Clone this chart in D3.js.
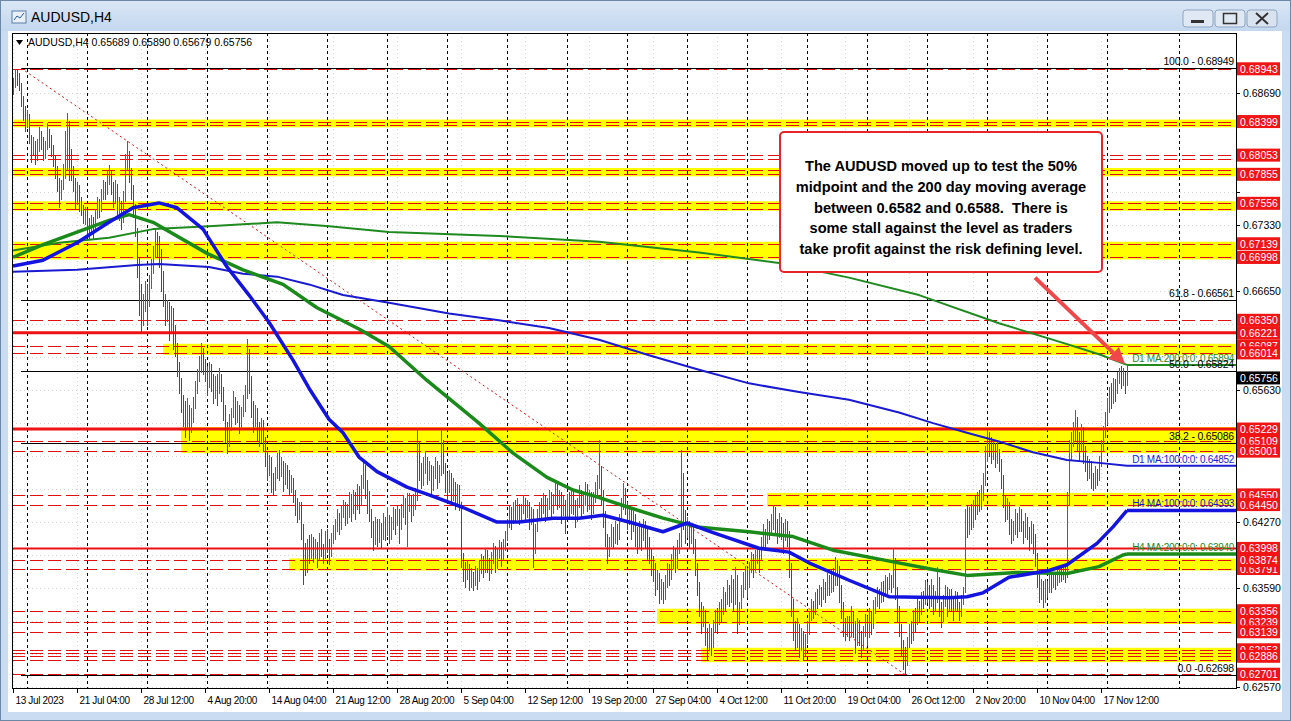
<!DOCTYPE html>
<html><head><meta charset="utf-8">
<script src="https://cdn.jsdelivr.net/npm/d3@7"></script>
<style>
body{margin:0;background:#fff;overflow:hidden}
svg{display:block;font-family:"Liberation Sans",Arial,sans-serif}
</style></head><body>
<svg id="c" width="1291" height="721"></svg>
<script>
// ===== DATA (prices in pips, 0.0001) =====
const symbolTitle = "AUDUSD,H4";
const headerOHLC = "0.65689 0.65890 0.65679 0.65756";

const closes = [
6880,6889,6886,6878, 6862,6850,6838,6845, 6822,6810,6818,6805,
6815,6826,6820,6808,6814,6830,6822,6812, 6800,6790,6778,6765,6772,
6790,6820,6838,6808,6792, 6775,6762,6770,6756,6750, 6740,6748,6735,6728,6738,6732,
6745,6755,6750,6765,6772,6768,6782,6788, 6770,6760,6772,6748,6755,6740,6762,
6800,6808, 6785,6768,6750,6730, 6690,6660,6640,6652,6668,6650,
6675,6690,6705,6720,6712, 6700,6680,6660, 6640,6652,6630,6645,6625,
6605,6585,6568,6550,6540, 6530,6545,6525,6538, 6552,6565,6578,6590,6600,6592,
6580,6570,6585,6575,6560,6572,6565,6578, 6560,6540,6520,6508,6530,
6540,6552,6535,6545,6528,6540,6550, 6560,6598,6575, 6545,6530,6540,6522,6515,6528,6510,
6495,6480,6490,6470,6462, 6478,6490,6480,6488,6470,6482,6475, 6462,6470,6455,6445,6438,6442,
6420,6395,6380,6405,6398, 6408,6395,6402,6390,6410,6400,6394,6412,6405,6396,6410,6418,
6425,6432,6422,6438,6444,6430,6440, 6450,6438,6455,6442,6460,6448,6470,6485,6465,6448,
6435,6420,6408,6425,6410, 6420,6412,6428,6418,6430,6415,6425,6435,
6428,6438,6425,6440,6448,6435,6445,6452,6440,6450,6455, 6495,
6480,6470,6485,6490,6475,6482,6468,6478,6488,6472,6480,6505,6485,
6470,6462,6475,6458,6465,6452,6460,6448, 6395,
6378,6370,6382,6365,6372,6362,6375,6368,6380,
6388,6380,6392,6385,6378,6390,6398,6386,6395,6402,6392,6405,6412,
6425,6438,6430,6442,6435,6445,6432,6440,6448,6436,6445,6430,6438,6400,6420,6435,
6445,6440,6452,6438,6445,6455,6440,6450,6462,6448,6455,6440,6448,6435,6450,
6440,6452,6445,6432,6445,6455,6440,6448,6460,6445,6452,6440,6450,6462,6470, 6478,
6452,6430,6410,6398,6405, 6415,6408,6420,6412,6430,6445,6460,
6440,6428,6435,6420,6430,6415,6405,6420,6410,6425,6412,6400,
6395,6385,6378,6365,6370,6355,6360,6350, 6365,6378,6372,6388,6395,6385,6400,6408, 6470,
6430,6418,6425,6410,6420,6405, 6380,6360,6340,6325,6335, 6310,6298,6315,6302,6320,
6332,6325,6340,6335,6350,6345,6358,6352, 6365,6345,6370,6328,6340,6355,6368,
6375,6360,6382,6390,6378,6392,6398,6388,
6405,6415,6410,6422,6418,6428,6440,6425,6418,6430,6420,6412,6425,6415,
6380,6340,6318, 6305,6320,6300,6310,6295,6308,6318,
6330,6342,6335,6350,6345,6358,6350,6362,6355,6368,6360,6372,6365,6380,6375,
6355,6338,6320,6312,6325, 6315,6330,6318,6305,6322,6310,6298,6315,6325,6312,6330,6320,6338,
6345,6352,6348,6360,6355,6365,6362,6370,6365,6385, 6355,6335,6318,6300,6288,6282,6300,
6318,6310,6330,6325,6342,6335,6350,6345,6360,6355,
6345,6360,6340,6350,6365,6338,6330,6348,6355,6340,6352, 6345,6338,6350,6342,6335,6348,6355,
6432,6420,6438,6428,6445,6440,6450,6445,6458,6470, 6495,6510,6505, 6498,6505,6492,6500,6488,
6470,6450,6435,6445,6425,6412,6420, 6432,6420,6438,6425,6415,6430,6418,6408,6422,6410,
6390,6372,6355,6362,6350, 6362,6358,6368,6362,6372,6365,6370,6378,6372,6380,6375,
6450,6500, 6510,6522,6530,6515,6505,6520,6500, 6490,6478,6485,6470,6465,6478,6472,6490,
6505,6520,6535,6548,6560, 6555,6568,6562,6575,6585,6572,6580,6569,6576
];
const highs = [
6885,6894,6893,6890, 6880,6866,6856,6852, 6848,6826,6824,6820,
6822,6834,6830,6824,6820,6838,6832,6826, 6816,6804,6794,6782,6780,
6796,6830,6849,6840,6812, 6794,6782,6778,6774,6762, 6754,6752,6750,6740,6744,6742,
6750,6762,6760,6770,6780,6778,6790,6795, 6790,6778,6780,6776,6762,6758,6768,
6806,6820, 6810,6792,6775,6755, 6730,6700,6672,6662,6675,6672,
6682,6698,6712,6729,6726, 6722,6708,6686, 6662,6656,6654,6650,6648,
6630,6612,6592,6575,6558, 6552,6555,6548,6545, 6556,6572,6585,6598,6612,6606,
6595,6588,6592,6590,6580,6578,6580,6586, 6580,6566,6548,6530,6538,
6545,6562,6556,6552,6548,6546,6558, 6568,6616,6605, 6578,6552,6548,6545,6530,6534,6532,
6515,6500,6496,6494,6478, 6484,6498,6501,6494,6490,6488,6486, 6481,6476,6472,6460,6452,6448,
6448,6425,6405,6410,6414, 6415,6412,6410,6406,6416,6420,6404,6418,6420,6410,6416,6424,
6430,6440,6436,6444,6450,6448,6446, 6458,6456,6460,6458,6466,6464,6476,6489,6486,6470,
6459,6440,6428,6432,6430, 6430,6426,6436,6432,6442,6434,6432,6442,
6440,6445,6440,6446,6455,6452,6457,6457,6455,6456,6462, 6522,
6510,6488,6494,6500,6494,6490,6486,6485,6494,6490,6486,6522,6512,
6488,6478,6481,6478,6472,6468,6466,6465, 6445,
6392,6386,6388,6384,6380,6376,6382,6380,6388,
6394,6392,6400,6398,6390,6396,6405,6402,6400,6408,6406,6410,6418,
6430,6445,6442,6448,6450,6452,6446,6446,6455,6452,6450,6448,6442,6440,6425,6440,
6448,6452,6457,6455,6452,6460,6458,6456,6470,6466,6460,6458,6454,6450,6456,
6458,6460,6458,6450,6452,6465,6460,6456,6468,6466,6460,6458,6458,6468,6475, 6512,
6485,6460,6438,6415,6412, 6425,6422,6428,6425,6435,6452,6467,
6462,6448,6442,6440,6438,6435,6422,6428,6424,6430,6428,6420,
6412,6400,6392,6385,6378,6374,6368,6365, 6372,6385,6384,6394,6402,6400,6408,6416, 6501,
6478,6439,6432,6428,6426,6425, 6410,6385,6365,6345,6340, 6336,6318,6322,6318,6326,
6336,6338,6345,6348,6360,6355,6367,6362, 6372,6368,6381,6372,6345,6362,6375,
6382,6380,6386,6396,6394,6398,6401,6400,
6412,6425,6420,6430,6428,6435,6445,6442,6430,6436,6432,6426,6430,6428,
6418,6385,6348, 6325,6328,6322,6318,6315,6312,6325,
6335,6348,6346,6355,6358,6362,6360,6368,6365,6374,6372,6378,6380,6391,6388,
6382,6362,6345,6328,6330, 6330,6340,6335,6325,6328,6326,6315,6320,6332,6330,6338,6335,6347,
6350,6360,6358,6365,6366,6372,6370,6374,6372,6400, 6390,6360,6340,6322,6305,6298,6308,
6322,6325,6336,6338,6348,6346,6355,6356,6367,6365,
6362,6368,6362,6356,6381,6370,6345,6352,6362,6360,6358, 6358,6350,6356,6355,6345,6352,6360,
6440,6445,6442,6446,6450,6455,6458,6460,6465,6478, 6505,6522,6520, 6515,6512,6508,6510,6502,
6492,6475,6455,6452,6448,6430,6428, 6440,6436,6442,6440,6428,6436,6432,6422,6428,6425,
6415,6395,6378,6368,6366, 6368,6366,6372,6372,6376,6376,6378,6381,6380,6384,6382,
6458,6512, 6520,6530,6543,6535,6520,6528,6525, 6505,6495,6492,6490,6478,6485,6482,6495,
6512,6526,6540,6555,6566, 6570,6575,6574,6582,6586,6588,6586,6582,6589
];
const lows = [
6868,6876,6878,6872, 6856,6842,6830,6834, 6818,6798,6806,6796,
6800,6810,6812,6800,6802,6812,6814,6804, 6794,6782,6768,6752,6760,
6770,6782,6790,6780,6780, 6768,6750,6755,6748,6744, 6735,6734,6724,6720,6725,6719,
6728,6740,6742,6748,6760,6760,6765,6776, 6765,6752,6756,6740,6738,6729,6736,
6758,6790, 6778,6760,6742,6722, 6680,6640,6622,6630,6645,6630,
6655,6668,6684,6700,6700, 6690,6665,6650, 6630,6634,6615,6624,6605,
6598,6578,6560,6540,6526, 6515,6524,6512,6520, 6530,6545,6560,6572,6582,6580,
6572,6558,6566,6562,6550,6555,6548,6560, 6552,6532,6510,6498,6505,
6522,6535,6528,6530,6519,6524,6536, 6542,6555,6560, 6535,6520,6526,6512,6505,6510,6500,
6485,6470,6475,6458,6455, 6460,6472,6470,6474,6459,6466,6462, 6455,6458,6448,6434,6427,6430,
6410,6363,6372,6375,6385, 6390,6386,6390,6381,6388,6392,6385,6390,6396,6384,6392,6405,
6410,6418,6415,6420,6432,6424,6426, 6432,6428,6436,6430,6440,6436,6445,6462,6452,6436,
6428,6412,6398,6404,6402, 6406,6401,6410,6408,6414,6405,6410,6420,
6415,6424,6405,6420,6432,6425,6402,6438,6428,6434,6440, 6450,
6470,6462,6465,6478,6466,6470,6455,6460,6472,6462,6468,6475,6478,
6458,6450,6458,6448,6450,6440,6446,6439, 6381,
6366,6360,6368,6357,6360,6357,6362,6358,6366,
6374,6370,6376,6375,6367,6374,6385,6376,6380,6390,6382,6388,6398,
6408,6422,6420,6426,6428,6430,6425,6428,6436,6430,6432,6420,6425,6381,6395,6418,
6430,6432,6436,6428,6430,6440,6432,6436,6445,6440,6442,6426,6434,6416,6430,
6430,6436,6435,6422,6428,6442,6432,6436,6445,6438,6440,6430,6436,6448,6455, 6462,
6445,6422,6402,6385,6392, 6402,6401,6405,6404,6410,6428,6440,
6435,6420,6425,6410,6418,6402,6395,6400,6398,6408,6400,6388,
6385,6372,6366,6352,6358,6344,6348,6344, 6348,6360,6362,6368,6380,6375,6380,6395, 6402,
6420,6405,6412,6400,6405,6395, 6372,6352,6330,6313,6320, 6300,6285,6295,6290,6298,
6315,6313,6322,6325,6332,6335,6342,6340, 6345,6335,6342,6313,6322,6338,6350,
6358,6350,6360,6375,6370,6378,6385,6375,
6392,6400,6398,6405,6410,6414,6420,6415,6405,6412,6410,6395,6408,6402,
6370,6330,6305, 6295,6298,6288,6295,6285,6290,6302,
6312,6326,6328,6332,6338,6342,6340,6348,6345,6352,6352,6355,6356,6362,6362,
6345,6328,6310,6305,6310, 6305,6310,6308,6292,6300,6300,6288,6295,6310,6300,6308,6312,6318,
6333,6340,6338,6345,6346,6352,6354,6358,6355,6360, 6348,6325,6310,6290,6275,6270,6280,
6298,6302,6305,6315,6322,6325,6332,6338,6342,6345,
6338,6340,6332,6335,6345,6330,6319,6325,6340,6330,6335, 6335,6326,6335,6335,6326,6330,6342,
6355,6412,6415,6420,6422,6430,6435,6438,6440,6450, 6465,6490,6495, 6488,6492,6484,6488,6480,
6462,6442,6428,6430,6415,6405,6408, 6415,6412,6418,6418,6405,6412,6410,6398,6405,6395,
6382,6360,6345,6348,6339, 6345,6350,6355,6355,6360,6358,6362,6365,6366,6368,6365,
6370,6445, 6492,6505,6512,6500,6490,6500,6488, 6480,6470,6472,6462,6460,6462,6465,6470,
6485,6500,6515,6528,6540, 6545,6550,6552,6560,6570,6565,6568,6560,6568
];
const firstOpen = 6876;

// Moving averages: [bar index, price in pips]
const maH4_100 = [[0,6691],[15,6697],[32,6715],[48,6736],[60,6751],[73,6756],[82,6751],[95,6729],[107,6690],[118,6661],[128,6633],[140,6594],[148,6565],[158,6533],[165,6519],[173,6494],[182,6479],[197,6463],[208,6455],[225,6442],[242,6427],[253,6427],[270,6431],[283,6431],[295,6434],[308,6427],[325,6417],[337,6426],[350,6416],[373,6400],[388,6396],[398,6385],[418,6367],[438,6350],[468,6349],[477,6350],[485,6354],[498,6370],[518,6377],[527,6383],[542,6405],[550,6422],[557,6439]];
const maH4_200 = [[0,6700],[15,6713],[32,6726],[48,6738],[58,6744],[70,6736],[97,6704],[115,6687],[135,6672],[152,6648],[173,6626],[188,6608],[207,6573],[233,6529],[250,6498],[267,6473],[280,6460],[292,6453],[308,6442],[325,6431],[342,6422],[368,6417],[390,6412],[410,6398],[435,6388],[460,6378],[477,6372],[502,6375],[527,6374],[543,6381],[555,6393],[557,6394]];
const maD1_100 = [[0,6685],[32,6687],[62,6692],[73,6693],[98,6690],[115,6683],[132,6680],[148,6672],[165,6661],[188,6653],[218,6642],[243,6635],[268,6627],[293,6615],[318,6599],[343,6584],[368,6570],[393,6561],[418,6553],[443,6540],[460,6529],[477,6519],[493,6510],[510,6499],[527,6491],[543,6488],[557,6485]];
const maD1_200 = [[0,6707],[23,6715],[48,6720],[70,6729],[98,6732],[132,6736],[158,6732],[188,6726],[243,6722],[293,6716],[343,6705],[383,6694],[418,6679],[453,6661],[493,6632],[523,6613],[543,6600],[557,6589]];
const maLabels = ["D1 MA:200:0:0: 0.65894","D1 MA:100:0:0: 0.64852","H4 MA:100:0:0: 0.64393","H4 MA:200:0:0: 0.63940"];

// Horizontal levels
const dashedLevels = [0.68943,0.68399,0.68360,0.68053,0.68016,0.67900,0.67855,0.67556,0.67500,0.67139,0.66998,0.66350,0.66087,0.66014,0.65109,0.65001,0.64550,0.64450,0.63874,0.63791,0.63356,0.63239,0.63139,0.62953,0.62920,0.62886,0.62846,0.62701];
const solidLevels = [0.66221,0.65229,0.63998];
const solidWidths = [3,3,2];
const bandHigh  = [0.68399,0.67900,0.67556,0.67139,0.66087,0.65229,0.64550,0.63874,0.63356,0.62953,0.62886];
const bandLow   = [0.68360,0.67855,0.67500,0.66998,0.66014,0.65001,0.64450,0.63791,0.63239,0.62920,0.62846];
const bandStart = [null,null,null,null,75,84,377,138,322,344,344];
const labelLevels = [0.68399,0.68053,0.67855,0.67556,0.67139,0.66998,0.66350,0.66221,0.66087,0.66014,0.65229,0.65109,0.65001,0.64550,0.64450,0.63998,0.63791,0.63874,0.63356,0.63239,0.63139,0.62953,0.62886,0.62701,0.68943];
const currentPrice = 0.65756;

// Fibonacci retracement
const fibLevels = [0.68949,0.66561,0.65824,0.65086,0.62698];
const fibNames  = ["100.0 - 0.68949","61.8 - 0.66561","50.0 - 0.65824","38.2 - 0.65086","0.0 -0.62698"];
const fibStartBar = 4, fibEndBar = 446;

// Axis
const priceTicks = [0.68690,0.68350,0.68010,0.67670,0.67330,0.66990,0.66650,0.66310,0.65970,0.65630,0.65290,0.64950,0.64610,0.64270,0.63930,0.63590,0.63250,0.62910,0.62570];
const timeLabels = ["13 Jul 2023","21 Jul 04:00","28 Jul 12:00","4 Aug 20:00","14 Aug 04:00","21 Aug 12:00","28 Aug 20:00","5 Sep 04:00","12 Sep 12:00","19 Sep 20:00","27 Sep 04:00","4 Oct 12:00","11 Oct 20:00","19 Oct 04:00","26 Oct 12:00","2 Nov 20:00","10 Nov 04:00","17 Nov 12:00"];
const timeLabelBars = timeLabels.map((d,k)=>k*32);
const weekSeparatorBars = [7,37,67,97,127,157,187,217,247,277,307,337,367,397,427,457,487,517,547,583];

// Annotation
const noteLines = ["The AUDUSD moved up to test the 50%","midpoint and the 200 day moving average","between 0.6582 and 0.6588.  There is","some stall against the level as traders","take profit against the risk defining level."];
const noteBox = {bar0:383.5, bar1:544.5, pTop:0.68292, pBot:0.66848};
const arrowFrom = [511, 0.6679], arrowTo = [556, 0.6590];

// ===== DRAW =====
const W=1291,H=721;
const plot={l:12,r:1236,t:33,b:688};
const svg=d3.select("#c");
const x=d3.scaleLinear().domain([0,557]).range([13,1127]);
const y=d3.scaleLinear().domain([0.62559,0.69312]).range([plot.b,plot.t]);
const P=v=>v/10000;

// window chrome
const defs=svg.append("defs");
const g1=defs.append("linearGradient").attr("id","tb").attr("x1",0).attr("y1",0).attr("x2",0).attr("y2",1);
g1.append("stop").attr("offset","0").attr("stop-color","#dbe7f5");
g1.append("stop").attr("offset","1").attr("stop-color","#c3d7ee");
svg.append("rect").attr("width",W).attr("height",H).attr("fill","#c9dcf1");
svg.append("rect").attr("width",W).attr("height",31).attr("fill","url(#tb)");
svg.append("rect").attr("x",0.5).attr("y",0.5).attr("width",W-1).attr("height",H-1).attr("fill","none").attr("stroke","#6d87a6");
svg.append("rect").attr("x",12).attr("y",11).attr("width",14).attr("height",12).attr("fill","#e9f0f8").attr("stroke","#5a7ea8");
svg.append("path").attr("d","M14,20 L17,16 L20,18 L24,13").attr("stroke","#2a5da0").attr("fill","none");
svg.append("text").attr("x",31).attr("y",22).attr("font-size",14).attr("fill","#000").text(symbolTitle);
const btnX=[1183,1215,1247];
btnX.forEach((bx,k)=>{
  svg.append("rect").attr("x",bx).attr("y",10).attr("width",30).attr("height",17).attr("rx",3)
    .attr("fill",k==2?"#d9e3ef":"#dfe8f3").attr("stroke","#8ea6c4");
});
svg.append("rect").attr("x",1191).attr("y",20).attr("width",13).attr("height",3).attr("fill","#333");
svg.append("rect").attr("x",1223.5).attr("y",13.5).attr("width",13).attr("height",10).attr("fill","none").attr("stroke","#333").attr("stroke-width",1.5);
svg.append("path").attr("d","M1256,13 L1268,24 M1268,13 L1256,24").attr("stroke","#333").attr("stroke-width",2);

svg.append("rect").attr("x",8).attr("y",31).attr("width",1274).attr("height",681).attr("fill","#fff");

const gc=svg.append("g");
gc.append("clipPath").attr("id","pc").append("rect").attr("x",plot.l).attr("y",plot.t).attr("width",plot.r-plot.l).attr("height",plot.b-plot.t);
const pg=gc.append("g").attr("clip-path","url(#pc)");

// grid
pg.selectAll(".gh").data(priceTicks).join("line").attr("x1",plot.l).attr("x2",plot.r)
  .attr("y1",d=>Math.round(y(d))+0.5).attr("y2",d=>Math.round(y(d))+0.5)
  .attr("stroke","#d4d4d4").attr("stroke-dasharray","1,3");
pg.selectAll(".gv").data(timeLabelBars).join("line").attr("y1",plot.t).attr("y2",plot.b)
  .attr("x1",d=>Math.round(x(d))+0.5).attr("x2",d=>Math.round(x(d))+0.5)
  .attr("stroke","#d4d4d4").attr("stroke-dasharray","1,3");

// yellow bands
pg.selectAll(".band").data(bandHigh).join("rect")
  .attr("x",(d,i)=>bandStart[i]==null?plot.l:x(bandStart[i]))
  .attr("width",(d,i)=>plot.r-(bandStart[i]==null?plot.l:x(bandStart[i])))
  .attr("y",d=>y(d)-2).attr("height",(d,i)=>y(bandLow[i])-y(d)+4)
  .attr("fill","#ffff00");

// week separators
pg.selectAll(".sep").data(weekSeparatorBars).join("line")
  .attr("x1",d=>Math.round(x(d))+0.5).attr("x2",d=>Math.round(x(d))+0.5)
  .attr("y1",plot.t).attr("y2",plot.b).attr("stroke","#000").attr("stroke-dasharray","3,3");

// red dashed levels
pg.selectAll(".dl").data(dashedLevels).join("line").attr("x1",plot.l).attr("x2",plot.r)
  .attr("y1",d=>Math.round(y(d))+0.5).attr("y2",d=>Math.round(y(d))+0.5)
  .attr("stroke","#e01010").attr("stroke-dasharray","13,5");
pg.selectAll(".sl").data(solidLevels).join("line").attr("x1",plot.l).attr("x2",plot.r)
  .attr("y1",d=>y(d)).attr("y2",d=>y(d))
  .attr("stroke","#ee1111").attr("stroke-width",(d,i)=>solidWidths[i]);

// fib lines
pg.selectAll(".fl").data(fibLevels).join("line").attr("x1",x(fibStartBar)).attr("x2",plot.r)
  .attr("y1",d=>Math.round(y(d))+0.5).attr("y2",d=>Math.round(y(d))+0.5)
  .attr("stroke","#000").attr("stroke-width",1);
pg.append("line").attr("x1",x(fibStartBar)).attr("y1",y(fibLevels[0])).attr("x2",x(fibEndBar)).attr("y2",y(fibLevels[4]))
  .attr("stroke","#e01010").attr("stroke-dasharray","2,3");

// bars
const bars=closes.map((c,i)=>{
  const o=i==0?firstOpen:closes[i-1];
  return {i,o,c,h:Math.max(highs[i],o,c),l:Math.min(lows[i],o,c)};
});
pg.selectAll(".bar").data(bars).join("line")
  .attr("x1",d=>Math.round(x(d.i))+0.5).attr("x2",d=>Math.round(x(d.i))+0.5)
  .attr("y1",d=>Math.round(y(P(d.h)))).attr("y2",d=>Math.round(y(P(d.l)))+1)
  .attr("stroke",d=>d.c>=d.o?"#00a000":"#ff0000").attr("stroke-width",1)
  .attr("shape-rendering","crispEdges");

// MAs
const lineGen=d3.line().x(d=>x(d[0])).y(d=>y(P(d[1])));
function drawMA(data,color,w){
  pg.append("path").datum(data).attr("d",lineGen).attr("fill","none").attr("stroke",color).attr("stroke-width",w).attr("stroke-linejoin","round");
  const last=data[data.length-1];
  pg.append("line").attr("x1",x(last[0])).attr("x2",plot.r).attr("y1",y(P(last[1]))).attr("y2",y(P(last[1]))).attr("stroke",color).attr("stroke-width",w);
}
drawMA(maD1_200,"#1f8a1f",2);
drawMA(maD1_100,"#1a1ad0",2);
drawMA(maH4_200,"#1a8a1a",3.5);
drawMA(maH4_100,"#1414e0",3.5);

const maLabelData=[[maD1_200,"#1f8a1f"],[maD1_100,"#1a1ad0"],[maH4_100,"#1414e0"],[maH4_200,"#1a8a1a"]];
maLabelData.forEach((m,k)=>{
  const last=m[0][m[0].length-1];
  pg.append("text").attr("x",plot.r-2).attr("y",y(P(last[1]))-3).attr("text-anchor","end")
    .attr("font-size",10).attr("letter-spacing",-0.3).attr("fill",m[1]).text(maLabels[k]);
});

pg.selectAll(".ft").data(fibLevels).join("text").attr("x",plot.r-2).attr("y",d=>y(d)-3)
  .attr("text-anchor","end").attr("font-size",10.5).attr("letter-spacing",-0.2).attr("fill","#000").text((d,i)=>fibNames[i]);

// annotation box + arrow
const bx0=x(noteBox.bar0),bx1=x(noteBox.bar1),by0=y(noteBox.pTop),by1=y(noteBox.pBot);
pg.append("rect").attr("x",bx0).attr("y",by0).attr("width",bx1-bx0).attr("height",by1-by0).attr("rx",4)
  .attr("fill","#fff").attr("stroke","#e8262a").attr("stroke-width",2);
pg.selectAll(".nt").data(noteLines).join("text").attr("x",(bx0+bx1)/2)
  .attr("y",(d,i)=>by0+39+i*20.8).attr("text-anchor","middle").attr("font-weight","bold")
  .attr("font-size",14.6).attr("fill","#000").style("white-space","pre").text(d=>d);
const ax0=x(arrowFrom[0]),ay0=y(arrowFrom[1]),ax1=x(arrowTo[0]),ay1=y(arrowTo[1]);
const ang=Math.atan2(ay1-ay0,ax1-ax0);
const hl=16,hw=8;
const bxp=ax1-hl*Math.cos(ang),byp=ay1-hl*Math.sin(ang);
pg.append("line").attr("x1",ax0).attr("y1",ay0).attr("x2",bxp).attr("y2",byp).attr("stroke","#f0474b").attr("stroke-width",4);
pg.append("path").attr("d",`M${ax1},${ay1} L${bxp+hw*Math.sin(ang)},${byp-hw*Math.cos(ang)} L${bxp-hw*Math.sin(ang)},${byp+hw*Math.cos(ang)} Z`).attr("fill","#f0474b");

// frame
gc.append("rect").attr("x",plot.l+0.5).attr("y",plot.t+0.5).attr("width",plot.r-plot.l).attr("height",plot.b-plot.t)
  .attr("fill","none").attr("stroke","#000");

// header
gc.append("path").attr("d","M16,40 L23,40 L19.5,45 Z").attr("fill","#000");
gc.append("text").attr("x",28).attr("y",46).attr("font-size",10.5).attr("fill","#000").text(symbolTitle+" "+headerOHLC);

// price axis (tick texts hidden behind level boxes are skipped)
const boxYs=labelLevels.concat([currentPrice]).map(v=>y(v));
const ag=gc.append("g");
ag.selectAll(".pt").data(priceTicks).join("g").each(function(d){
  const g=d3.select(this), yy=Math.round(y(d))+0.5;
  g.append("line").attr("x1",plot.r).attr("x2",plot.r+4).attr("y1",yy).attr("y2",yy).attr("stroke","#000");
  if(!boxYs.some(b=>Math.abs(b-yy)<12))
    g.append("text").attr("x",plot.r+7).attr("y",yy+3.5).attr("font-size",10.5).attr("fill","#000").text(d.toFixed(5));
});
ag.selectAll(".rl").data(labelLevels).join("g").each(function(d){
  const g=d3.select(this), yy=y(d);
  g.append("rect").attr("x",plot.r+1).attr("y",yy-6.5).attr("width",43).attr("height",13).attr("fill","#f01414");
  g.append("text").attr("x",plot.r+4).attr("y",yy+4).attr("font-size",10.5).attr("fill","#fff").text(d.toFixed(5));
});
{
  const yy=y(currentPrice);
  ag.append("rect").attr("x",plot.r+1).attr("y",yy-6.5).attr("width",43).attr("height",13).attr("fill","#000");
  ag.append("text").attr("x",plot.r+4).attr("y",yy+4).attr("font-size",10.5).attr("fill","#fff").text(currentPrice.toFixed(5));
}

// time axis
const tg=gc.append("g");
timeLabelBars.forEach((b,k)=>{
  const xx=Math.round(x(b))+0.5;
  tg.append("line").attr("x1",xx).attr("x2",xx).attr("y1",plot.b).attr("y2",plot.b+5).attr("stroke","#000");
  tg.append("text").attr("x",xx+2).attr("y",plot.b+16).attr("font-size",10).attr("letter-spacing",-0.35).attr("fill","#000").text(timeLabels[k]);
});
</script></body></html>
